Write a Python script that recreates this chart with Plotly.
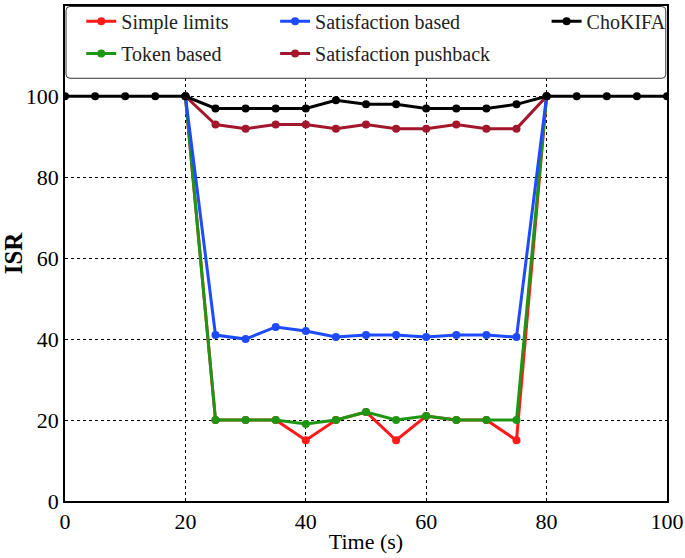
import plotly.graph_objects as go

time_all = [0, 5, 10, 15, 20, 25, 30, 35, 40, 45, 50, 55, 60, 65, 70, 75, 80, 85, 90, 95, 100]
time_mid = [20, 25, 30, 35, 40, 45, 50, 55, 60, 65, 70, 75, 80]

simple_limits = [100, 20, 20, 20, 15, 20, 22, 15, 21, 20, 20, 15, 100]
token_based = [100, 20, 20, 20, 19, 20, 22, 20, 21, 20, 20, 20, 100]
satisfaction_based = [100, 41, 40, 43, 42, 40.5, 41, 41, 40.5, 41, 41, 40.5, 100]
satisfaction_pushback = [100, 93, 92, 93, 93, 92, 93, 92, 92, 93, 92, 92, 100]
chokifa = [100, 100, 100, 100, 100, 97, 97, 97, 97, 99, 98, 98, 97, 97, 97, 98, 100, 100, 100, 100, 100]

# name, x, y, colour, legend id, legend position (paper x, paper y)
series = [
    ("Simple limits", time_mid, simple_limits, "#ff1a1a", "legend", (0.027, 0.969)),
    ("Token based", time_mid, token_based, "#1e9614", "legend2", (0.027, 0.904)),
    ("Satisfaction based", time_mid, satisfaction_based, "#1f4bff", "legend3", (0.349, 0.969)),
    ("Satisfaction pushback", time_mid, satisfaction_pushback, "#a3172c", "legend4", (0.349, 0.904)),
    ("ChoKIFA", time_all, chokifa, "#000000", "legend5", (0.80, 0.969)),
]

font = "Liberation Serif, DejaVu Serif, serif"

fig = go.Figure()
legends = {}
for name, x, y, color, leg, (lx, ly) in series:
    fig.add_trace(go.Scatter(
        x=x, y=y, name=name, mode="lines+markers",
        line=dict(color=color, width=3),
        marker=dict(color=color, size=8),
        legend=leg,
    ))
    legends[leg] = dict(
        x=lx, y=ly, xanchor="left", yanchor="middle",
        bgcolor="rgba(0,0,0,0)", borderwidth=0,
        font=dict(size=20, family=font, color="#222222"),
    )

axis_style = dict(
    showline=True, linecolor="black", linewidth=1.5, mirror=True,
    showgrid=True, gridcolor="black", griddash="dot", gridwidth=1,
    zeroline=False, ticks="", automargin=False,
    tickfont=dict(size=22, color="black", family=font),
)

fig.update_xaxes(range=[0, 100], tickvals=[0, 20, 40, 60, 80, 100],
                 title=dict(text="Time (s)", font=dict(size=22, family=font), standoff=0),
                 **axis_style)
fig.update_yaxes(range=[0, 122.3], tickvals=[0, 20, 40, 60, 80, 100],
                 title=dict(text="<b>ISR</b>", font=dict(size=25, family=font), standoff=8),
                 **axis_style)

# legend frame with rounded corners, drawn over the top of the plot area
rx, ry = 4 / 602, 4 / 499
x0, x1, y0, y1 = 0.0017, 0.998, 0.854, 0.999
frame = (f"M {x0 + rx},{y1} L {x1 - rx},{y1} Q {x1},{y1} {x1},{y1 - ry} "
         f"L {x1},{y0 + ry} Q {x1},{y0} {x1 - rx},{y0} L {x0 + rx},{y0} "
         f"Q {x0},{y0} {x0},{y0 + ry} L {x0},{y1 - ry} Q {x0},{y1} {x0 + rx},{y1} Z")
fig.add_shape(type="path", path=frame, xref="paper", yref="paper",
              line=dict(color="#333333", width=1), fillcolor="white", layer="above")

fig.update_layout(
    width=685, height=558,
    margin=dict(l=65, r=18, t=2, b=57),
    plot_bgcolor="white", paper_bgcolor="white",
    font=dict(family=font, color="black"),
    showlegend=True,
    **legends,
)

# drop the browser's default page margin so the figure sits at the window corner
fig.write_html("out.html", config={"displayModeBar": False},
               post_script="document.body.style.margin = '0';")
